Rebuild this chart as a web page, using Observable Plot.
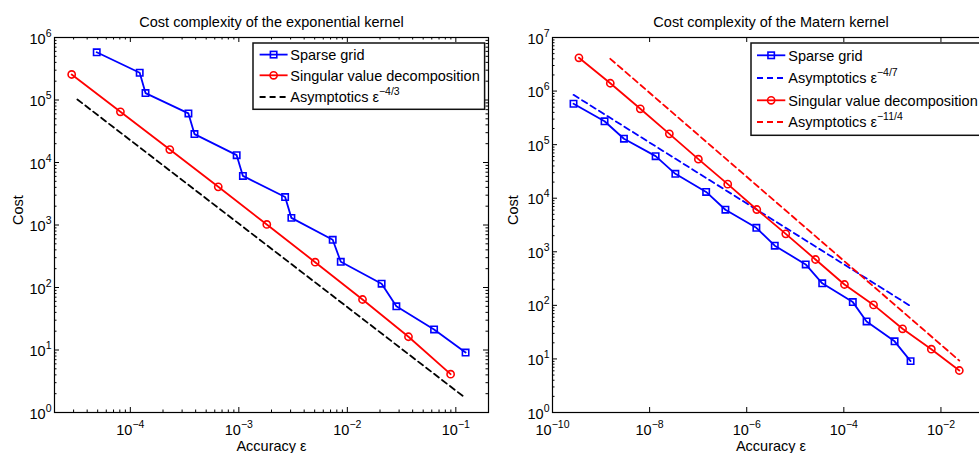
<!DOCTYPE html>
<html><head><meta charset="utf-8">
<script src="https://cdn.jsdelivr.net/npm/d3@7"></script>
<script src="https://cdn.jsdelivr.net/npm/@observablehq/plot@0.6"></script>
<style>
html,body{margin:0;padding:0;background:#fff;}
#wrap{position:relative;width:979px;height:453px;overflow:hidden;background:#fff;}
#wrap > svg{position:absolute;top:0;}
</style></head><body><div id="wrap"></div>
<script>
const FONT = '"Liberation Sans", Arial, Helvetica, sans-serif';
const BLUE = "#0000ff", RED = "#ff0000", BLACK = "#000000";

// ---- Left panel: exponential kernel ----
const expTitle = "Cost complexity of the exponential kernel";
const expSparseAccuracy = [4.9e-5, 1.22e-4, 1.38e-4, 3.43e-4, 3.9e-4, 9.55e-4, 1.09e-3, 2.67e-3, 3.05e-3, 7.33e-3, 8.7e-3, 0.0207, 0.0283, 0.063, 0.123];
const sparseCost = [5.8e5, 2.73e5, 1.29e5, 6.1e4, 2.85e4, 1.31e4, 6.1e3, 2.8e3, 1.3e3, 580, 258, 115, 50, 21.3, 9.1];
const expSvdAccuracy = [2.88e-5, 8.1e-5, 2.31e-4, 6.46e-4, 1.81e-3, 5.05e-3, 0.0138, 0.0366, 0.0895];
const expSvdCost = [2.56e5, 6.48e4, 1.61e4, 4.08e3, 1.02e3, 254, 64.3, 16.3, 4.1];
const expAsymAccuracy = [3.25e-5, 0.123];
const expAsymCost = [1.02e5, 1.7];
const expXTicks = [1e-4, 1e-3, 1e-2, 1e-1];
const expYTicks = [1, 1e1, 1e2, 1e3, 1e4, 1e5, 1e6];

// ---- Right panel: Matern kernel ----
const matTitle = "Cost complexity of the Matern kernel";
const matSparseAccuracy = [2.71e-10, 1.18e-9, 2.96e-9, 1.33e-8, 3.39e-8, 1.46e-7, 3.64e-7, 1.58e-6, 3.78e-6, 1.64e-5, 3.59e-5, 1.53e-4, 2.94e-4, 1.11e-3, 2.37e-3];
const matSvdAccuracy = [3.5e-10, 1.55e-9, 6.43e-9, 2.55e-8, 1.01e-7, 4.06e-7, 1.61e-6, 6.37e-6, 2.61e-5, 1.03e-4, 4.09e-4, 1.62e-3, 6.34e-3, 0.0239];
const matSvdCost = [4.18e6, 1.4e6, 4.67e5, 1.59e5, 5.35e4, 1.83e4, 6.15e3, 2.16e3, 718, 245, 102, 36.5, 15.2, 6.08];
const matSparseAsymAccuracy = [2.71e-10, 2.45e-3];
const matSparseAsymCost = [8.5e5, 95];
const matSvdAsymAccuracy = [1.55e-9, 0.0239];
const matSvdAsymCost = [4.0e6, 9.3];
const matXTicks = [1e-10, 1e-8, 1e-6, 1e-4, 1e-2];
const matYTicks = [1, 1e1, 1e2, 1e3, 1e4, 1e5, 1e6, 1e7];

const xLabel = "Accuracy ε";
const yLabel = "Cost";

const zip = (xs, ys) => xs.map((x, i) => ({x, y: ys[i]}));
function minors([lo, hi]) {
  const out = [];
  for (let k = Math.floor(Math.log10(lo)); k <= Math.ceil(Math.log10(hi)); k++)
    for (let m = 2; m <= 9; m++) { const v = m * Math.pow(10, k); if (v > lo && v < hi) out.push(v); }
  return out;
}
const fmt = d => "10^" + Math.round(Math.log10(d));

function panel(o) {
  const H = 453, mt = 37, mb = 41;
  const ih = H - mt - mb, iw = o.width - o.ml - o.mr;
  const TL = 5, TM = 2.5;
  const marks = [];
  const tx = (vals, len) => [
    Plot.tickX(vals, {x: d => d, insetTop: ih - len, stroke: BLACK, strokeWidth: 1}),
    Plot.tickX(vals, {x: d => d, insetBottom: ih - len, stroke: BLACK, strokeWidth: 1})
  ];
  const ty = (vals, len) => [
    Plot.tickY(vals, {y: d => d, insetRight: iw - len, stroke: BLACK, strokeWidth: 1}),
    Plot.tickY(vals, {y: d => d, insetLeft: iw - len, stroke: BLACK, strokeWidth: 1})
  ];
  marks.push(...tx(o.xTicks, TL), ...ty(o.yTicks, TL));
  if (o.xMinor) marks.push(...tx(o.xMinor, TM));
  if (o.yMinor) marks.push(...ty(o.yMinor, TM));
  for (const s of o.series) {
    marks.push(Plot.line(s.data, {x: "x", y: "y", stroke: s.color, strokeWidth: 1.8, strokeDasharray: s.dash || null}));
  }
  for (const s of o.series) {
    if (s.symbol) marks.push(Plot.dot(s.data, {x: "x", y: "y", symbol: s.symbol, r: 3.6, stroke: s.color, strokeWidth: 1.6, fill: "none"}));
  }
  marks.push(Plot.frame({stroke: BLACK, strokeWidth: 1.2}));
  marks.push(Plot.axisX({anchor: "bottom", ticks: o.xTicks, tickSize: 0, tickPadding: 12, tickFormat: fmt, label: null, fontSize: 14.5}));
  marks.push(Plot.axisY({anchor: "left", ticks: o.yTicks, tickSize: 0, tickPadding: 3, tickFormat: fmt, label: null, fontSize: 14.5, dy: 1.5}));
  marks.push(Plot.text([o.title], {text: d => d, frameAnchor: "top", lineAnchor: "bottom", dy: -11, fontSize: 14.5}));
  marks.push(Plot.text([xLabel], {text: d => d, frameAnchor: "bottom", lineAnchor: "bottom", dy: 38, fontSize: 14.5}));
  marks.push(Plot.text([yLabel], {text: d => d, frameAnchor: "left", lineAnchor: "middle", rotate: -90, dx: o.costDx, fontSize: 14.5}));
  const svg = Plot.plot({
    width: o.width, height: H, marginTop: mt, marginBottom: mb, marginLeft: o.ml, marginRight: o.mr,
    x: {type: "log", domain: o.xDomain},
    y: {type: "log", domain: o.yDomain},
    style: {fontFamily: FONT, fontSize: "14.5px", background: "transparent", color: BLACK, overflow: "visible"},
    marks
  });
  // superscript exponents on tick labels
  svg.querySelectorAll('g[aria-label$="tick label"] text').forEach(t => {
    const m = t.textContent.match(/^10\^(.+)$/);
    if (!m) return;
    t.textContent = "10";
    const ts = document.createElementNS("http://www.w3.org/2000/svg", "tspan");
    ts.setAttribute("dy", "-7");
    ts.setAttribute("font-size", "10.5");
    ts.textContent = m[1].replace("-", "\u2212");
    t.appendChild(ts);
  });
  svg.style.left = o.left + "px";
  svg.style.maxWidth = "none";
  return svg;
}

function legend(o) {
  const svg = d3.create("svg")
    .attr("width", o.width + 4).attr("height", o.height + 4)
    .style("position", "absolute").style("left", (o.left - 2) + "px").style("top", (o.top - 2) + "px")
    .style("font-family", FONT).style("font-size", "14.5px");
  svg.append("rect").attr("x", 2).attr("y", 2).attr("width", o.width).attr("height", o.height)
    .attr("fill", "#fff").attr("stroke", "#111").attr("stroke-width", 1.5);
  o.rows.forEach(r => {
    const y = 2 + r.y;
    svg.append("line").attr("x1", 2 + o.x1).attr("x2", 2 + o.x2).attr("y1", y).attr("y2", y)
      .attr("stroke", r.color).attr("stroke-width", 1.8).attr("stroke-dasharray", r.dash || null);
    const cx = 2 + (o.x1 + o.x2) / 2;
    if (r.symbol === "square") svg.append("rect").attr("x", cx - 3.2).attr("y", y - 3.2).attr("width", 6.4).attr("height", 6.4)
      .attr("fill", "none").attr("stroke", r.color).attr("stroke-width", 1.6);
    if (r.symbol === "circle") svg.append("circle").attr("cx", cx).attr("cy", y).attr("r", 3.6)
      .attr("fill", "none").attr("stroke", r.color).attr("stroke-width", 1.6);
    const t = svg.append("text").attr("x", 2 + o.tx).attr("y", y + 5.2).attr("fill", "#000").text(r.label);
    if (r.sup) t.append("tspan").attr("dy", -7).attr("font-size", 10.5).text(r.sup);
  });
  return svg.node();
}

const wrap = document.getElementById("wrap");

const xExpDomain = [2e-5, 0.2], yExpDomain = [1, 1e6];
wrap.appendChild(panel({
  left: 0, width: 490, ml: 54, mr: 2,
  xDomain: xExpDomain, yDomain: yExpDomain,
  xTicks: expXTicks, yTicks: expYTicks, xMinor: minors(xExpDomain), yMinor: minors(yExpDomain),
  title: expTitle, costDx: -36.5,
  series: [
    {data: zip(expSparseAccuracy, sparseCost), color: BLUE, symbol: "square"},
    {data: zip(expSvdAccuracy, expSvdCost), color: RED, symbol: "circle"},
    {data: zip(expAsymAccuracy, expAsymCost), color: BLACK, dash: "6,4"}
  ]
}));

const xMatDomain = [1e-10, 1e-1], yMatDomain = [1, 1e7];
wrap.appendChild(panel({
  left: 490, width: 510, ml: 62, mr: 11,
  xDomain: xMatDomain, yDomain: yMatDomain,
  xTicks: matXTicks, yTicks: matYTicks, xMinor: null, yMinor: minors(yMatDomain),
  title: matTitle, costDx: -39,
  series: [
    {data: zip(matSparseAccuracy, sparseCost), color: BLUE, symbol: "square"},
    {data: zip(matSparseAsymAccuracy, matSparseAsymCost), color: BLUE, dash: "6,4"},
    {data: zip(matSvdAccuracy, matSvdCost), color: RED, symbol: "circle"},
    {data: zip(matSvdAsymAccuracy, matSvdAsymCost), color: RED, dash: "6,4"}
  ]
}));

wrap.appendChild(legend({
  left: 252.7, top: 42.7, width: 231.6, height: 66.3, x1: 6.6, x2: 34.6, tx: 37.3,
  rows: [
    {y: 11.6, color: BLUE, symbol: "square", label: "Sparse grid"},
    {y: 32.3, color: RED, symbol: "circle", label: "Singular value decomposition"},
    {y: 54.0, color: BLACK, dash: "6,4", label: "Asymptotics ε", sup: "\u22124/3"}
  ]
}));

wrap.appendChild(legend({
  left: 750.7, top: 42.7, width: 233, height: 92.3, x1: 6, x2: 34.3, tx: 37.3,
  rows: [
    {y: 12.3, color: BLUE, symbol: "square", label: "Sparse grid"},
    {y: 35.0, color: BLUE, dash: "6,4", label: "Asymptotics ε", sup: "\u22124/7"},
    {y: 57.3, color: RED, symbol: "circle", label: "Singular value decomposition"},
    {y: 79.0, color: RED, dash: "6,4", label: "Asymptotics ε", sup: "\u221211/4"}
  ]
}));
</script></body></html>
